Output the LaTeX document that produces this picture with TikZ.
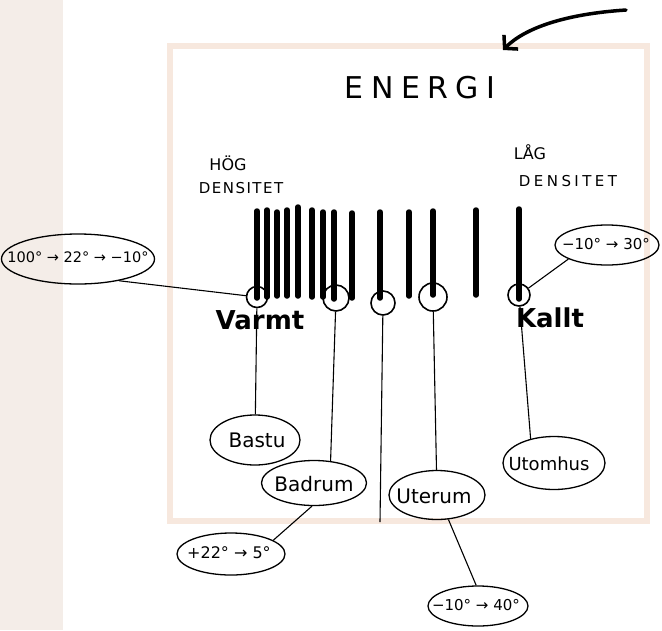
\documentclass[tikz,border=0pt]{standalone}
\usepackage{fontspec}
\setmainfont{DejaVu Sans}
\usetikzlibrary{shapes.geometric,arrows.meta}
\definecolor{stripc}{HTML}{F4EDE8}
\definecolor{framec}{HTML}{F7E8DE}
\begin{document}
\begin{tikzpicture}[x=1pt,y=-1pt,
 bubble/.style={draw,ellipse,line width=1.3pt,inner sep=0pt},
 ring/.style={draw,circle,line width=1.6pt,inner sep=0pt},
 bar/.style={line width=5.5pt,line cap=round},
 wire/.style={line width=1.1pt},
 lbl/.style={inner sep=0pt,font=\fontsize{14}{16}\selectfont},
 word/.style={inner sep=0pt,font=\fontsize{20}{22}\selectfont},
 hand/.style={inner sep=0pt,font=\fontsize{16}{18}\selectfont},
 heavy/.style={inner sep=0pt,font=\fontsize{26}{28}\selectfont\bfseries}]
\useasboundingbox (0,0) rectangle (662,630);
\fill[white] (0,0) rectangle (662,630);
\fill[stripc] (0,0) rectangle (63,630);
\draw[framec,line width=6pt] (170,46) rectangle (647,521);

% arrow
\coordinate (arrS) at (626,10);
\coordinate (arrE) at (503,50);
\draw[line width=3.5pt,line cap=round,-{Straight Barb[length=9pt,width=20pt,line width=3.5pt]}]
  (arrS) .. controls (565,14) and (525,28) .. (arrE);

% title and density labels
\node[inner sep=0pt,font=\fontsize{30}{32}\selectfont\addfontfeature{LetterSpace=25}] (energi) at (420,88) {ENERGI};
\node[hand] (hog) at (228,163) {HÖG};
\node[hand,font=\fontsize{15}{17}\selectfont\addfontfeature{LetterSpace=10}] (dens1) at (241,188) {DENSITET};
\node[hand] (lag) at (530,152) {LÅG};
\node[hand,font=\fontsize{15}{17}\selectfont\addfontfeature{LetterSpace=23}] (dens2) at (568,181) {DENSITET};

% bars
\foreach \x/\t/\b in {257/211/298, 267/210/297, 277/212/296, 287/210/296, 298/207/296,
  312/210/297, 323/212/297, 334/212/299, 352/213/298, 380/212/298, 409/212/296,
  433/211/295, 476/210/295, 519/209/299}
  \draw[bar] (\x,\t) -- (\x,\b);

% rings
\node[ring,minimum size=21pt] (c1) at (257,297) {};
\node[ring,minimum size=26pt] (c2) at (336,298) {};
\node[ring,minimum size=24pt] (c3) at (383,303) {};
\node[ring,minimum size=28pt] (c4) at (433,297) {};
\node[ring,minimum size=22pt] (c5) at (519,295) {};

\node[heavy] (varmt) at (260,320) {Varmt};
\node[heavy] (kallt) at (550,318) {Kallt};

% room bubbles
\node[bubble,minimum width=90pt,minimum height=50pt] (bastu) at (255,440) {};
\node[word] (bastuT) at (257,440) {Bastu};
\node[bubble,minimum width=105pt,minimum height=45pt] (badrum) at (314,483) {};
\node[word] (badrumT) at (314,484) {Badrum};
\node[bubble,minimum width=96pt,minimum height=49pt] (uterum) at (437,495) {};
\node[word] (uterumT) at (434,496) {Uterum};
\node[bubble,minimum width=102pt,minimum height=53pt] (utomhus) at (554,463) {};
\node[word,font=\fontsize{18}{20}\selectfont] (utomhusT) at (549,464) {Utomhus};

% temperature bubbles
\node[bubble,minimum width=153pt,minimum height=50pt] (b1) at (78,259) {};
\node[lbl,font=\fontsize{14.5}{16}\selectfont] (b1T) at (78,257) {100° → 22° → −10°};
\node[bubble,minimum width=104pt,minimum height=40pt] (b2) at (607,245) {};
\node[lbl,font=\fontsize{15}{17}\selectfont] (b2T) at (606,244) {−10° → 30°};
\node[bubble,minimum width=108pt,minimum height=42pt] (b3) at (231,554) {};
\node[lbl,font=\fontsize{16}{18}\selectfont] (b3T) at (229,553) {+22° → 5°};
\node[bubble,minimum width=100pt,minimum height=40pt] (b4) at (478,606) {};
\node[lbl,font=\fontsize{15}{17}\selectfont] (b4T) at (476,605) {−10° → 40°};

% connectors
\coordinate (c3end) at (380,522);
\draw[wire] (b1.-28) -- (c1);
\draw[wire] (b2.200) -- (c5);
\draw[wire] (c1) -- (bastu);
\draw[wire] (c2) -- (badrum.53);
\draw[wire] (c3) -- (c3end);
\draw[wire] (c4) -- (uterum);
\draw[wire] (c5) -- (utomhus.134);
\draw[wire] (badrum.-95) -- (b3.18);
\draw[wire] (uterum.-65) -- (b4.95);
\end{tikzpicture}
\end{document}
